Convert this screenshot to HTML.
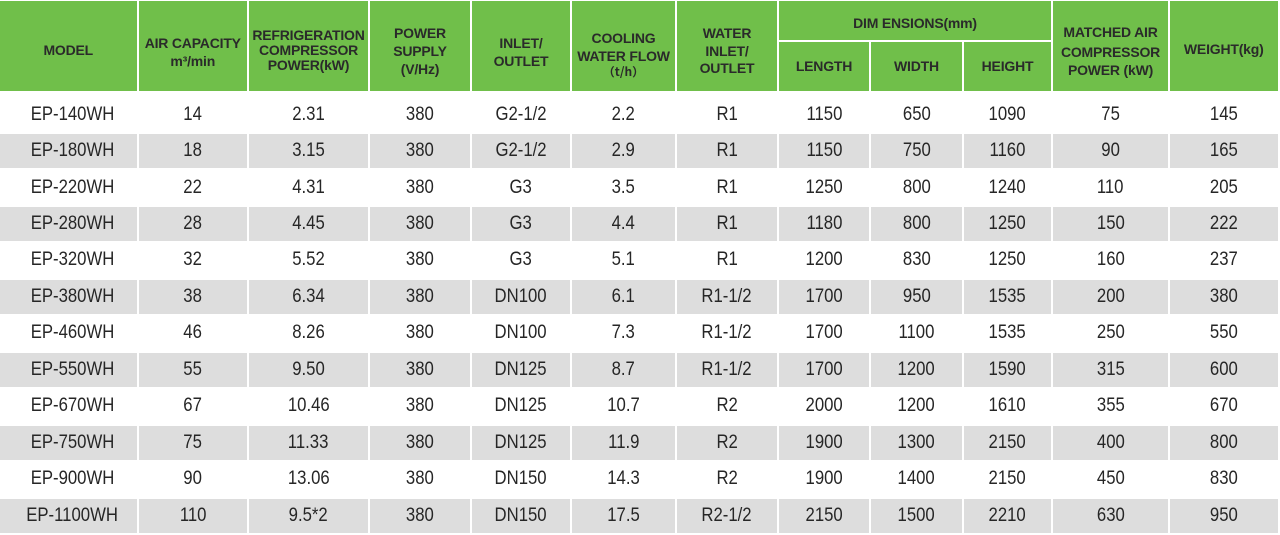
<!DOCTYPE html>
<html>
<head>
<meta charset="utf-8">
<style>
html,body{margin:0;padding:0;background:#fff;}
body{width:1280px;height:535px;position:relative;overflow:hidden;font-family:"Liberation Sans","Noto Sans CJK SC",sans-serif;}
.hc{position:absolute;background:#70bf4a;top:1px;height:89.5px;}
.h{position:absolute;left:0;right:0;height:16px;line-height:16px;text-align:center;font-weight:bold;font-size:14px;letter-spacing:-0.2px;color:#2a2a2a;white-space:nowrap;}
.h.s{font-size:12px;letter-spacing:0;font-family:"Noto Sans CJK SC","Liberation Sans",sans-serif;font-weight:bold;}
.r{position:absolute;left:0;width:1280px;height:34.4px;}
.r div{position:absolute;top:0;height:34.4px;line-height:34.4px;text-align:center;font-size:19px;color:#262626;white-space:nowrap;}
.r.g div{background:#dddddd;}
.r div span{display:inline-block;transform:scaleX(0.88);}
.r div:nth-child(1){left:0;width:136.5px;}
.r div:nth-child(1) span{position:relative;left:4px;}
.r div:nth-child(2){left:138.5px;width:108.5px;}
.r div:nth-child(3){left:249px;width:119px;}
.r div:nth-child(4){left:370px;width:100px;}
.r div:nth-child(5){left:472px;width:98px;}
.r div:nth-child(6){left:572px;width:103px;}
.r div:nth-child(7){left:677px;width:100px;}
.r div:nth-child(8){left:779px;width:90px;}
.r div:nth-child(9){left:871px;width:91px;}
.r div:nth-child(10){left:964px;width:87px;}
.r div:nth-child(11){left:1053px;width:115px;}
.r div:nth-child(12){left:1170px;width:107.5px;}
</style>
</head>
<body>

<!-- Header -->
<div class="hc" style="left:0;width:136.5px;">
  <div class="h" style="top:41px;">MODEL</div>
</div>
<div class="hc" style="left:138.5px;width:108.5px;">
  <div class="h" style="top:34px;">AIR CAPACITY</div>
  <div class="h" style="top:52px;">m³/min</div>
</div>
<div class="hc" style="left:249px;width:119px;">
  <div class="h" style="top:26px;">REFRIGERATION</div>
  <div class="h" style="top:41px;">COMPRESSOR</div>
  <div class="h" style="top:56px;">POWER(kW)</div>
</div>
<div class="hc" style="left:370px;width:100px;">
  <div class="h" style="top:24px;">POWER</div>
  <div class="h" style="top:42px;">SUPPLY</div>
  <div class="h" style="top:60px;">(V/Hz)</div>
</div>
<div class="hc" style="left:472px;width:98px;">
  <div class="h" style="top:34px;">INLET/</div>
  <div class="h" style="top:52px;">OUTLET</div>
</div>
<div class="hc" style="left:572px;width:103px;">
  <div class="h" style="top:28.7px;">COOLING</div>
  <div class="h" style="top:47px;">WATER FLOW</div>
  <div class="h s" style="top:62.7px;">（t/h）</div>
</div>
<div class="hc" style="left:677px;width:100px;">
  <div class="h" style="top:23.7px;">WATER</div>
  <div class="h" style="top:42px;">INLET/</div>
  <div class="h" style="top:59.3px;">OUTLET</div>
</div>
<div class="hc" style="left:779px;width:272px;height:39px;">
  <div class="h" style="top:13.7px;">DIM ENSIONS(mm)</div>
</div>
<div class="hc" style="left:779px;width:90px;top:42px;height:48.5px;">
  <div class="h" style="top:15.7px;">LENGTH</div>
</div>
<div class="hc" style="left:871px;width:91px;top:42px;height:48.5px;">
  <div class="h" style="top:15.7px;">WIDTH</div>
</div>
<div class="hc" style="left:964px;width:87px;top:42px;height:48.5px;">
  <div class="h" style="top:15.7px;">HEIGHT</div>
</div>
<div class="hc" style="left:1053px;width:115px;">
  <div class="h" style="top:23.3px;">MATCHED AIR</div>
  <div class="h" style="top:42.7px;">COMPRESSOR</div>
  <div class="h" style="top:61px;">POWER (kW)</div>
</div>
<div class="hc" style="left:1170px;width:107.5px;">
  <div class="h" style="top:40.3px;">WEIGHT(kg)</div>
</div>

<!-- Rows -->
<div class="r" style="top:97.6px;"><div><span>EP-140WH</span></div><div><span>14</span></div><div><span>2.31</span></div><div><span>380</span></div><div><span>G2-1/2</span></div><div><span>2.2</span></div><div><span>R1</span></div><div><span>1150</span></div><div><span>650</span></div><div><span>1090</span></div><div><span>75</span></div><div><span>145</span></div></div>
<div class="r g" style="top:134.07px;"><div><span>EP-180WH</span></div><div><span>18</span></div><div><span>3.15</span></div><div><span>380</span></div><div><span>G2-1/2</span></div><div><span>2.9</span></div><div><span>R1</span></div><div><span>1150</span></div><div><span>750</span></div><div><span>1160</span></div><div><span>90</span></div><div><span>165</span></div></div>
<div class="r" style="top:170.54px;"><div><span>EP-220WH</span></div><div><span>22</span></div><div><span>4.31</span></div><div><span>380</span></div><div><span>G3</span></div><div><span>3.5</span></div><div><span>R1</span></div><div><span>1250</span></div><div><span>800</span></div><div><span>1240</span></div><div><span>110</span></div><div><span>205</span></div></div>
<div class="r g" style="top:207.01px;"><div><span>EP-280WH</span></div><div><span>28</span></div><div><span>4.45</span></div><div><span>380</span></div><div><span>G3</span></div><div><span>4.4</span></div><div><span>R1</span></div><div><span>1180</span></div><div><span>800</span></div><div><span>1250</span></div><div><span>150</span></div><div><span>222</span></div></div>
<div class="r" style="top:243.48px;"><div><span>EP-320WH</span></div><div><span>32</span></div><div><span>5.52</span></div><div><span>380</span></div><div><span>G3</span></div><div><span>5.1</span></div><div><span>R1</span></div><div><span>1200</span></div><div><span>830</span></div><div><span>1250</span></div><div><span>160</span></div><div><span>237</span></div></div>
<div class="r g" style="top:279.95px;"><div><span>EP-380WH</span></div><div><span>38</span></div><div><span>6.34</span></div><div><span>380</span></div><div><span>DN100</span></div><div><span>6.1</span></div><div><span>R1-1/2</span></div><div><span>1700</span></div><div><span>950</span></div><div><span>1535</span></div><div><span>200</span></div><div><span>380</span></div></div>
<div class="r" style="top:316.42px;"><div><span>EP-460WH</span></div><div><span>46</span></div><div><span>8.26</span></div><div><span>380</span></div><div><span>DN100</span></div><div><span>7.3</span></div><div><span>R1-1/2</span></div><div><span>1700</span></div><div><span>1100</span></div><div><span>1535</span></div><div><span>250</span></div><div><span>550</span></div></div>
<div class="r g" style="top:352.89px;"><div><span>EP-550WH</span></div><div><span>55</span></div><div><span>9.50</span></div><div><span>380</span></div><div><span>DN125</span></div><div><span>8.7</span></div><div><span>R1-1/2</span></div><div><span>1700</span></div><div><span>1200</span></div><div><span>1590</span></div><div><span>315</span></div><div><span>600</span></div></div>
<div class="r" style="top:389.36px;"><div><span>EP-670WH</span></div><div><span>67</span></div><div><span>10.46</span></div><div><span>380</span></div><div><span>DN125</span></div><div><span>10.7</span></div><div><span>R2</span></div><div><span>2000</span></div><div><span>1200</span></div><div><span>1610</span></div><div><span>355</span></div><div><span>670</span></div></div>
<div class="r g" style="top:425.83px;"><div><span>EP-750WH</span></div><div><span>75</span></div><div><span>11.33</span></div><div><span>380</span></div><div><span>DN125</span></div><div><span>11.9</span></div><div><span>R2</span></div><div><span>1900</span></div><div><span>1300</span></div><div><span>2150</span></div><div><span>400</span></div><div><span>800</span></div></div>
<div class="r" style="top:462.3px;"><div><span>EP-900WH</span></div><div><span>90</span></div><div><span>13.06</span></div><div><span>380</span></div><div><span>DN150</span></div><div><span>14.3</span></div><div><span>R2</span></div><div><span>1900</span></div><div><span>1400</span></div><div><span>2150</span></div><div><span>450</span></div><div><span>830</span></div></div>
<div class="r g" style="top:498.77px;"><div><span>EP-1100WH</span></div><div><span>110</span></div><div><span>9.5*2</span></div><div><span>380</span></div><div><span>DN150</span></div><div><span>17.5</span></div><div><span>R2-1/2</span></div><div><span>2150</span></div><div><span>1500</span></div><div><span>2210</span></div><div><span>630</span></div><div><span>950</span></div></div>

</body>
</html>
